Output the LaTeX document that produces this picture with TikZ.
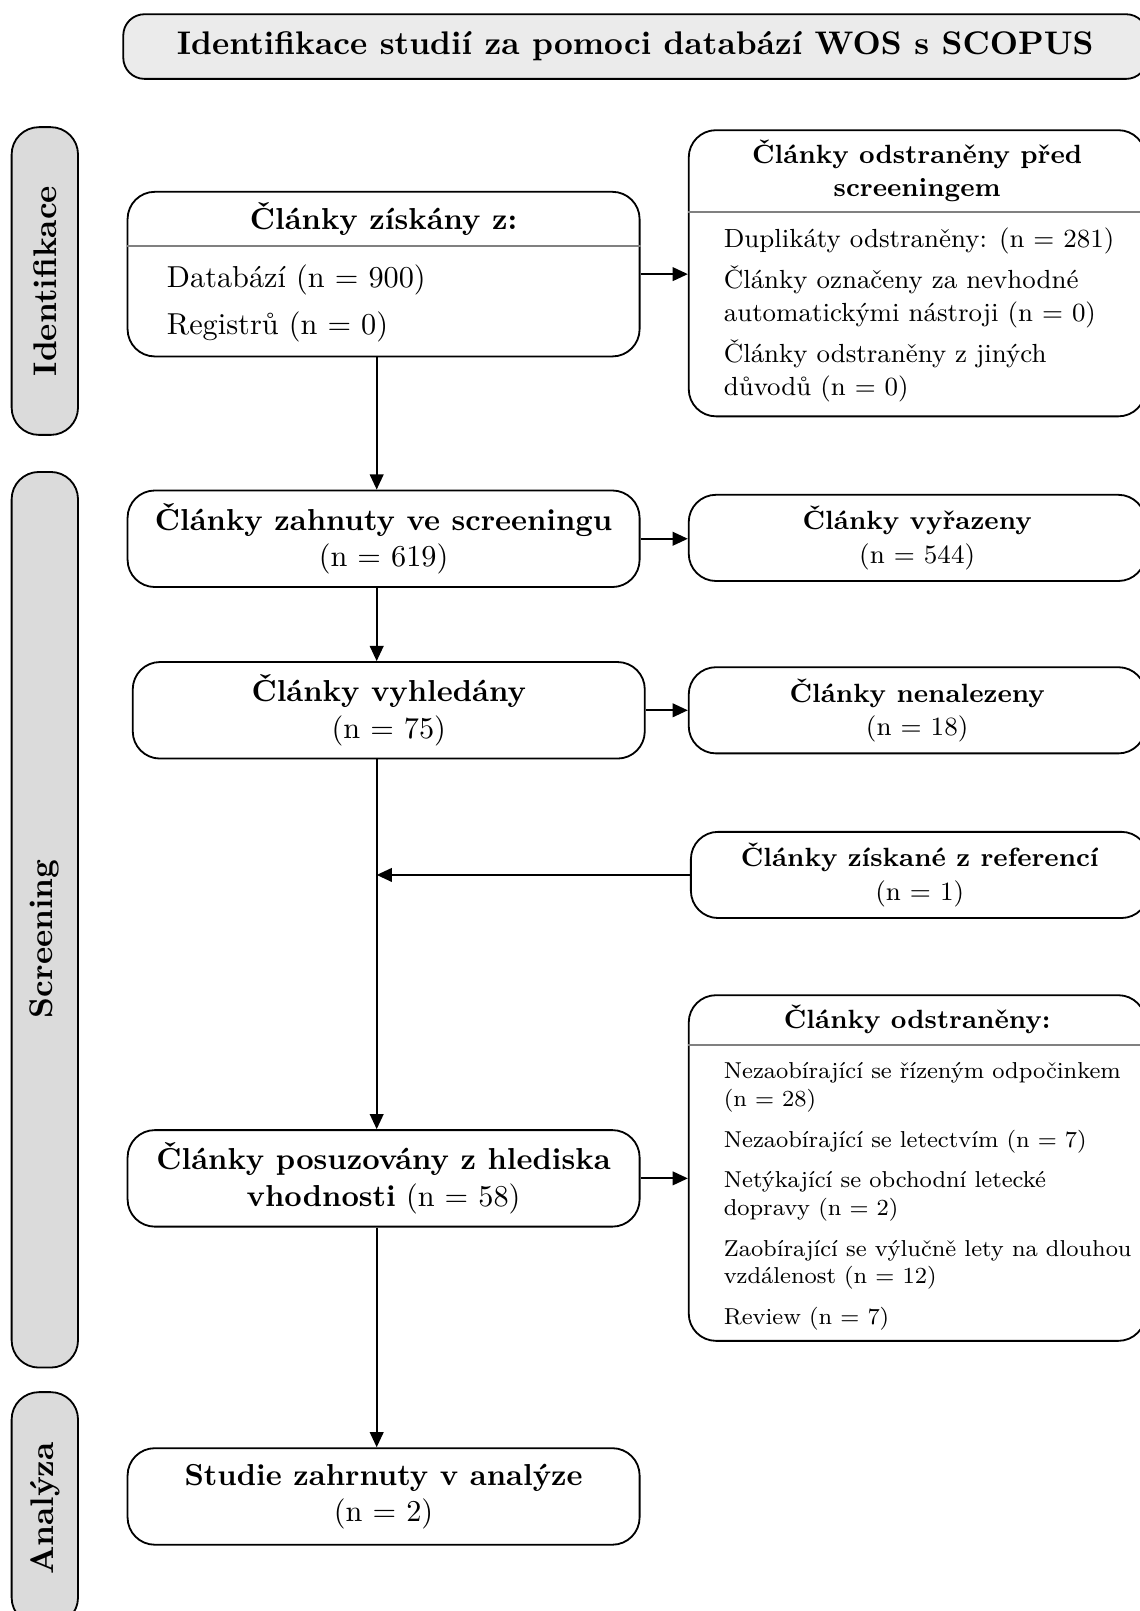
\documentclass[tikz,border=0pt]{standalone}
\usepackage{tikz}
\usetikzlibrary{arrows.meta}
\usetikzlibrary{positioning}
\tikzset{
	flowbox/.style = {draw, line width = 0.6pt, rounded corners = 9pt, minimum width = 5.94cm, minimum height = 1.12cm, align = center},
	rbox/.style = {flowbox, minimum width = 5.30cm, minimum height = 1cm, font = \fontsize{8.7}{11}\selectfont},
	phase/.style = {draw, line width = 0.6pt, fill = black!14, rounded corners = 9pt, rotate = 90, minimum height = 0.77cm, font = \fontsize{10.8}{13}\selectfont\bfseries},
	phasetext/.style = {rotate = 90, font = \fontsize{10.8}{13}\selectfont\bfseries},
	items/.style = {align = left, inner sep = 0pt, anchor = west},
	splitline/.style = {draw = black!50, line width = 0.6pt},
	arr/.style = {-{Triangle[length = 5pt, width = 4.5pt]}, line width = 0.6pt}
}

\begin{document}
\begin{tikzpicture}

					\useasboundingbox (0,0) rectangle (13.225,-18.689);

					\node[draw, line width = 0.6pt, fill = black!8, rounded corners = 7pt, minimum width = 11.88cm, minimum height = 0.75cm, font = \fontsize{10.8}{13}\selectfont\bfseries] (title) at (7.37,-0.54) {Identifikace studií za pomoci databází WOS s SCOPUS};

					\node[phase, minimum width = 3.57cm] (ident) at (0.52,-3.26) {Identifikace};
					\node[phase, minimum width = 10.39cm] (screen) at (0.52,-10.67) {};
					\node[phasetext] (screenT) at (0.52,-10.89) {Screening};
					\node[phase, minimum width = 2.70cm] (analysis) at (0.52,-17.50) {Analýza};

					\coordinate (spine) at (4.37,0);

					\node[flowbox, minimum height = 1.91cm] (sources) at (4.45,-3.18) {};
					\node[font = \bfseries, inner sep = 0pt] (sourcesH) at (4.45,-2.54) {Články získány z:};
					\draw[splitline] (sources.west |- 0,-2.85) -- (sources.east |- 0,-2.85);
					\node[items] (sourcesL) at (1.93,-3.52) {Databází (n = 900)\\[3.3pt]Registrů (n = 0)};

					\node[rbox, minimum height = 3.32cm] (removed) at (10.64,-3.17) {};
					\node[font = \fontsize{8.7}{11}\selectfont\bfseries, align = center, inner sep = 0pt] (removedH) at (10.64,-1.98) {Články odstraněny před\\screeningem};
					\draw[splitline] (removed.west |- 0,-2.46) -- (removed.east |- 0,-2.46);
					\node[items, font = \fontsize{8.65}{10.85}\selectfont] (removedL) at (8.39,-3.65) {Duplikáty odstraněny: (n = 281)\\[2.7pt]Články označeny za nevhodné\\automatickými nástroji (n = 0)\\[2.7pt]Články odstraněny z jiných\\důvodů (n = 0)};

					\node[flowbox] (screened) at (4.45,-6.25) {\textbf{Články zahnuty ve screeningu}\\(n = 619)};
					\node[rbox] (excluded) at (10.64,-6.24) {\textbf{Články vyřazeny}\\(n = 544)};

					\node[flowbox] (sought) at (4.51,-8.24) {\textbf{Články vyhledány}\\(n = 75)};
					\node[rbox] (notfound) at (10.64,-8.24) {\textbf{Články nenalezeny}\\(n = 18)};

					\node[rbox, minimum width = 5.31cm] (refs) at (10.67,-10.15) {\textbf{Články získané z referencí}\\(n = 1)};

					\node[flowbox] (eligible) at (4.45,-13.67) {\textbf{Články posuzovány z hlediska}\\\textbf{vhodnosti} (n = 58)};
					\node[rbox, minimum height = 4.01cm] (dropped) at (10.64,-13.55) {};
					\node[font = \fontsize{8.7}{11}\selectfont\bfseries, inner sep = 0pt] (droppedH) at (10.64,-11.83) {Články odstraněny:};
					\draw[splitline] (dropped.west |- 0,-12.12) -- (dropped.east |- 0,-12.12);
					\node[items, font = \fontsize{7.6}{9.15}\selectfont] (droppedL) at (8.39,-13.88) {Nezaobírající se řízeným odpočinkem\\(n = 28)\\[4.25pt]Nezaobírající se letectvím (n = 7)\\[4.25pt]Netýkající se obchodní letecké\\dopravy (n = 2)\\[4.25pt]Zaobírající se výlučně lety na dlouhou\\vzdálenost (n = 12)\\[4.25pt]Review (n = 7)};

					\node[flowbox] (included) at (4.45,-17.36) {\textbf{Studie zahrnuty v analýze}\\(n = 2)};

					\draw[arr] (sources.south -| spine) -- (screened.north -| spine);
					\draw[arr] (screened.south -| spine) -- (sought.north -| spine);
					\draw[arr] (sought.south -| spine) -- (eligible.north -| spine);
					\draw[arr] (eligible.south -| spine) -- (included.north -| spine);

					\draw[arr] (sources.east) -- (sources.east -| removed.west);
					\draw[arr] (screened.east) -- (screened.east -| excluded.west);
					\draw[arr] (sought.east) -- (sought.east -| notfound.west);
					\draw[arr] (refs.west) -- (refs.west -| spine);
					\draw[arr] (eligible.east) -- (eligible.east -| dropped.west);

\end{tikzpicture}
\end{document}
